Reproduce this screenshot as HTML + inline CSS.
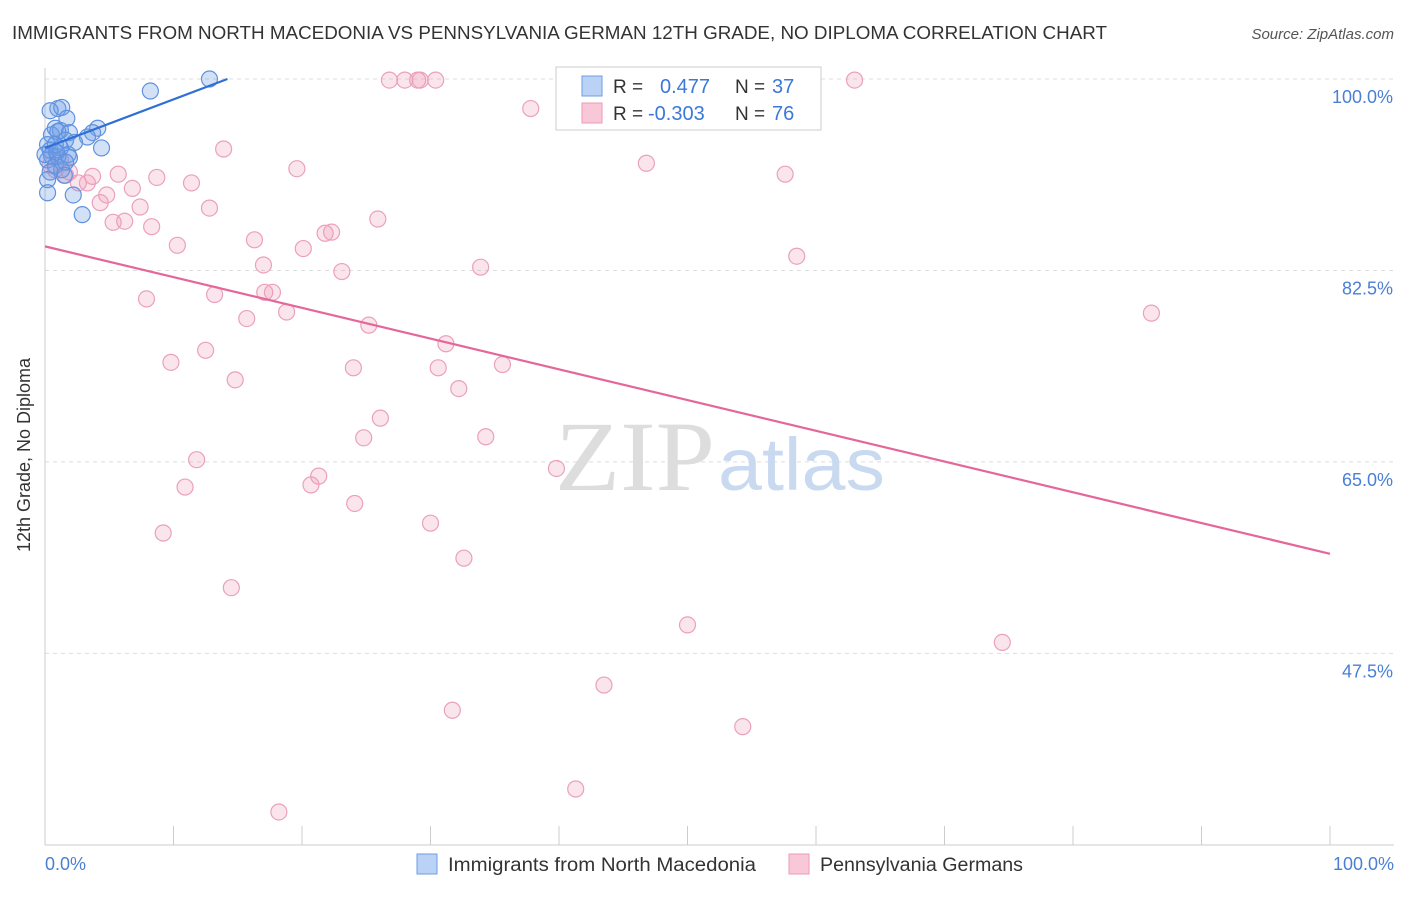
<!DOCTYPE html>
<html><head><meta charset="utf-8"><style>
body{margin:0;background:#fff;font-family:"Liberation Sans",sans-serif}
</style></head><body>
<svg width="1406" height="892" xmlns="http://www.w3.org/2000/svg" style="font-family:'Liberation Sans',sans-serif">
<text x="12" y="39" font-size="18" fill="#333" textLength="1095" lengthAdjust="spacingAndGlyphs">IMMIGRANTS FROM NORTH MACEDONIA VS PENNSYLVANIA GERMAN 12TH GRADE, NO DIPLOMA CORRELATION CHART</text>
<text x="1394" y="39" font-size="15" fill="#555" text-anchor="end" font-style="italic">Source: ZipAtlas.com</text>
<g id="grid"></g>
<text x="555" y="490" font-size="100" fill="#ddd" textLength="160" lengthAdjust="spacingAndGlyphs" font-family="Liberation Serif">ZIP</text>
<text x="718" y="490" font-size="74" fill="#c9daf0" textLength="167" lengthAdjust="spacingAndGlyphs">atlas</text>
<g id="marks"></g>
<text x="30" y="455" font-size="18" fill="#333" text-anchor="middle" transform="rotate(-90 30 455)">12th Grade, No Diploma</text>
<text x="45" y="870" font-size="18" fill="#4a7fd4">0.0%</text>
<text x="1394" y="870" font-size="18" fill="#4a7fd4" text-anchor="end">100.0%</text>
<g>
<rect x="556" y="67" width="265" height="63" fill="#fff" stroke="#ccc"/>
<rect x="582" y="76" width="20" height="20" fill="#b9d2f5" stroke="#6e9ee6"/>
<rect x="582" y="103" width="20" height="20" fill="#f9c8d8" stroke="#eb9ab6"/>
<text x="613" y="93" font-size="19" fill="#333">R =</text><text x="660" y="93" font-size="20" fill="#3b78d8">0.477</text>
<text x="735" y="93" font-size="19" fill="#333">N =</text><text x="772" y="93" font-size="20" fill="#3b78d8">37</text>
<text x="613" y="120" font-size="19" fill="#333">R =</text><text x="648" y="120" font-size="20" fill="#3b78d8">-0.303</text>
<text x="735" y="120" font-size="19" fill="#333">N =</text><text x="772" y="120" font-size="20" fill="#3b78d8">76</text>
</g>
<g>
<rect x="417" y="854" width="20" height="20" fill="#b9d2f5" stroke="#6e9ee6"/>
<text x="448" y="871" font-size="19" fill="#333" textLength="308" lengthAdjust="spacingAndGlyphs">Immigrants from North Macedonia</text>
<rect x="789" y="854" width="20" height="20" fill="#f9c8d8" stroke="#eb9ab6"/>
<text x="820" y="871" font-size="19" fill="#333" textLength="203" lengthAdjust="spacingAndGlyphs">Pennsylvania Germans</text>
</g>
</svg>
<script>
const yTicks=[100,82.5,65,47.5];
const yTickLabels=["100.0%","82.5%","65.0%","47.5%"];
const xTicks=[0,10,20,30,40,50,60,70,80,90,100];
const blueX=[12.8,8.2,1.0,1.3,0.4,1.7,0.8,1.2,0.5,1.9,1.0,4.1,3.7,3.3,1.6,0.2,4.4,0.4,1.2,1.8,0.5,1.0,1.9,0.2,0.8,1.3,0.4,0.2,0.2,2.2,2.9,1.5,0,0.8,2.3,0.9,1.6];
const blueY=[100,98.9,97.3,97.4,97.1,96.4,95.5,95.3,94.9,95.1,95.2,95.5,95.1,94.7,94.4,94.0,93.7,93.5,93.7,93.1,93.0,92.9,92.8,92.6,92.1,91.7,91.5,90.8,89.6,89.4,87.6,91.2,93.1,94.0,94.2,93.3,92.4];
const pinkX=[26.8,28.0,29.0,29.2,30.4,63.0,37.8,13.9,46.8,19.6,57.6,8.7,11.4,5.7,3.7,6.8,4.8,4.3,7.4,12.8,25.9,5.3,6.2,8.3,10.3,16.3,20.1,21.8,22.3,33.9,17.0,23.1,58.5,7.9,13.2,17.1,17.7,18.8,15.7,25.2,31.2,12.5,9.8,35.6,24.0,30.6,14.8,32.2,26.1,24.8,34.3,11.8,39.8,21.3,20.7,10.9,24.1,30.0,9.2,32.6,14.5,50.0,74.5,43.5,31.7,54.3,41.3,18.2,86.1,0.8,1.6,2.6,1.2,3.3,0.4,1.9];
const pinkY=[99.9,99.9,99.9,99.9,99.9,99.9,97.3,93.6,92.3,91.8,91.3,91.0,90.5,91.3,91.1,90.0,89.4,88.7,88.3,88.2,87.2,86.9,87.0,86.5,84.8,85.3,84.5,85.9,86.0,82.8,83.0,82.4,83.8,79.9,80.3,80.5,80.5,78.7,78.1,77.5,75.8,75.2,74.1,73.9,73.6,73.6,72.5,71.7,69.0,67.2,67.3,65.2,64.4,63.7,62.9,62.7,61.2,59.4,58.5,56.2,53.5,50.1,48.5,44.6,42.3,40.8,35.1,33.0,78.6,91.7,91.2,90.5,92.6,90.5,92.1,91.5];
const blueTrendX=[0,14.2];const blueTrendY=[93.7,100];
const pinkTrendX=[0,100];const pinkTrendY=[84.7,56.6];
const NS="http://www.w3.org/2000/svg";
const sx=v=>45+v*12.85, sy=v=>79+(100-v)*10.94;
const grid=document.getElementById('grid'), marks=document.getElementById('marks');
function mk(tag,attrs,parent){const e=document.createElementNS(NS,tag);for(const k in attrs)e.setAttribute(k,attrs[k]);parent.appendChild(e);return e;}
yTicks.forEach((t,i)=>{
 const l=mk('line',{x1:45,x2:1394,y1:sy(t),y2:sy(t),stroke:'#ddd','stroke-dasharray':'4 4'},grid);
 
 
 const tx=mk('text',{x:1393,y:sy(t)+24,'font-size':18,fill:'#4a7fd4','text-anchor':'end'},grid);
 tx.textContent=yTickLabels[i];
 
 
});
const ax=mk('line',{x1:45,x2:1394,y1:845,y2:845,stroke:'#ccc'},grid);


const ay=mk('line',{x1:45,x2:45,y1:68,y2:845,stroke:'#ccc'},grid);


xTicks.forEach(t=>{
 const l=mk('line',{x1:sx(t),x2:sx(t),y1:826,y2:845,stroke:'#ccc'},grid);
 
 
});
pinkX.forEach((x,i)=>{
 const c=mk('circle',{cx:sx(x),cy:sy(pinkY[i]),r:8,fill:'rgba(240,150,180,0.25)',stroke:'#eba0bb','stroke-width':1.2},marks);
 
 
});
blueX.forEach((x,i)=>{
 const c=mk('circle',{cx:sx(x),cy:sy(blueY[i]),r:8,fill:'rgba(110,155,230,0.3)',stroke:'#5f92e0','stroke-width':1.2},marks);
 
 
});
const pl=mk('line',{x1:sx(pinkTrendX[0]),y1:sy(pinkTrendY[0]),x2:sx(pinkTrendX[1]),y2:sy(pinkTrendY[1]),stroke:'#e5679a','stroke-width':2.2},marks);


const bl=mk('line',{x1:sx(blueTrendX[0]),y1:sy(blueTrendY[0]),x2:sx(blueTrendX[1]),y2:sy(blueTrendY[1]),stroke:'#2f6fd6','stroke-width':2.2},marks);


</script>
</body></html>
